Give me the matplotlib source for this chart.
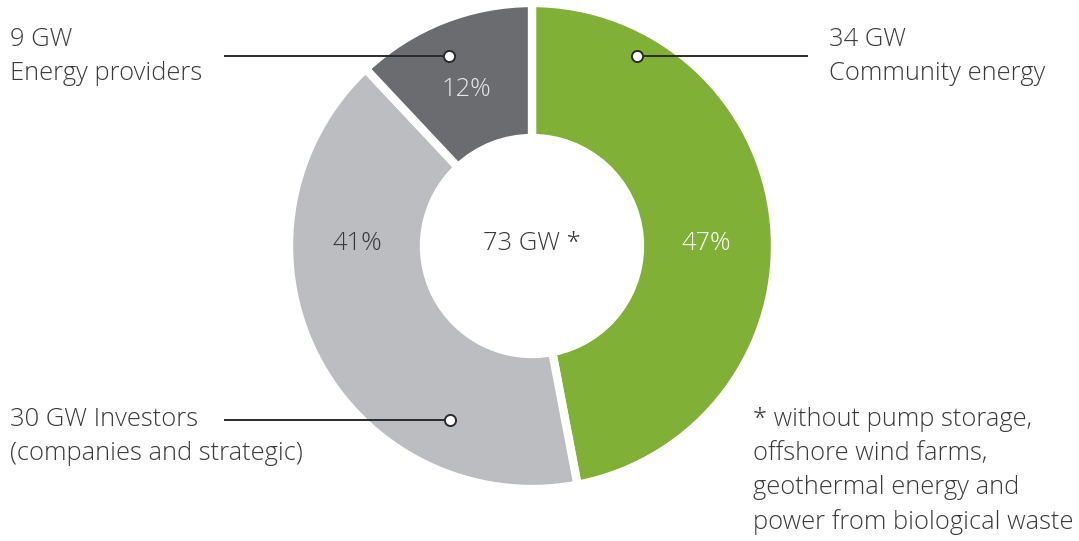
import matplotlib.pyplot as plt

# capacity by owner group (GW), share of total
groups = ['Community energy', 'Investors', 'Energy providers']
gw = [34, 30, 9]
shares = [47, 41, 12]
colors = ['#80b036', '#bcbdc1', '#6b6c70']
pct_colors = ['#ffffff', '#3a3a3c', '#e6e6e8']
total_label = '73 GW *'
footnote = ['* without pump storage,', 'offshore wind farms,',
            'geothermal energy and', 'power from biological waste']

W, H = 1079, 541
plt.rcParams['font.family'] = ['Open Sans', 'DejaVu Sans']
fig = plt.figure(figsize=(W / 100, H / 100), dpi=100)
ax = fig.add_axes([0, 0, 1, 1])


def fy(y):
    # pixel row -> data y
    return H - y


cx, cy = 532, fy(246)
ax.pie(shares, colors=colors, startangle=90, counterclock=False,
       center=(cx, cy), radius=243, frame=True,
       wedgeprops=dict(width=135, edgecolor='white', linewidth=6))
ax.set_xlim(0, W)
ax.set_ylim(0, H)
ax.set_aspect('equal')
ax.axis('off')

fs = 18.4
txt = '#3a3a3c'

# percentage labels inside the ring
pct_pos = [(706, 244), (357, 244), (466, 89)]
for s, (px, py), c in zip(shares, pct_pos, pct_colors):
    ax.text(px, fy(py), f'{s}%', color=c, fontsize=fs, ha='center',
            va='center', fontweight='light')
ax.text(cx, fy(244), total_label, color=txt, fontsize=fs, ha='center',
        va='center', fontweight='light')

# leader lines with hollow markers
leaders = [((637, 56), (808, 56)), ((450, 420), (224, 420)),
           ((449, 56), (224, 56))]
for (mx, my), (ex, ey) in leaders:
    ax.plot([mx, ex], [fy(my), fy(ey)], color='#2b2b2b', lw=1.4,
            solid_capstyle='butt', zorder=5)
    ax.plot(mx, fy(my), 'o', ms=8, mfc='white', mec='#2b2b2b', mew=1.4,
            zorder=6)

# outside labels
ax.text(829, fy(40), f'{gw[0]} GW', color=txt, fontsize=fs, va='center',
        fontweight='light')
ax.text(829, fy(73), groups[0], color=txt, fontsize=fs, va='center',
        fontweight='light')
ax.text(10, fy(420), f'{gw[1]} GW {groups[1]}', color=txt, fontsize=fs,
        va='center', fontweight='light')
ax.text(10, fy(454), '(companies and strategic)', color=txt, fontsize=fs,
        va='center', fontweight='light')
ax.text(10, fy(40), f'{gw[2]} GW', color=txt, fontsize=fs, va='center',
        fontweight='light')
ax.text(10, fy(73), groups[2], color=txt, fontsize=fs, va='center',
        fontweight='light')

for i, line in enumerate(footnote):
    ax.text(753, fy(419 + 34.5 * i), line, color=txt, fontsize=fs,
            va='center', fontweight='light')

fig.savefig('out.png', dpi=100)
